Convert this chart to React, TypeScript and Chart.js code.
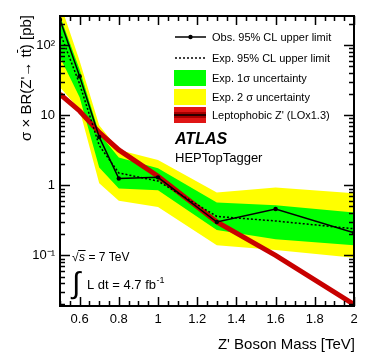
import React, { useEffect, useRef } from "react";
import { Chart, registerables } from "chart.js";

Chart.register(...registerables);

// ---- data ----
const masses = [0.5, 0.6, 0.7, 0.8, 1.0, 1.3, 1.6, 2.0];
const observed = [230, 36, 4.9, 1.25, 1.3, 0.3, 0.46, 0.21];
const expected = [150, 28, 3.7, 1.5, 1.15, 0.36, 0.31, 0.24];
const oneSigmaUp = [260, 45, 5.5, 2.5, 1.75, 0.57, 0.52, 0.41];
const oneSigmaDown = [67, 18, 1.8, 0.9, 0.85, 0.23, 0.17, 0.14];
const twoSigmaUp = [400, 60, 7.2, 3.2, 2.3, 0.79, 0.93, 0.77];
const twoSigmaDown = [25, 12, 1.07, 0.6, 0.49, 0.14, 0.12, 0.093];
const zprimeMasses = [0.5, 0.6, 0.7, 0.8, 1.0, 1.3, 1.6, 2.0];
const zprimeXsec = [20, 11.5, 5.7, 3.2, 1.35, 0.3, 0.1, 0.02];

const xTickValues = [0.6, 0.8, 1.0, 1.2, 1.4, 1.6, 1.8, 2.0];
const xTickLabels = ["0.6", "0.8", "1", "1.2", "1.4", "1.6", "1.8", "2"];
const yTickValues = [0.1, 1, 10, 100];
const yTickLabels = ["10\u207B\u00B9", "1", "10", "10\u00B2"];

const legendLabels = [
  "Obs. 95% CL upper limit",
  "Exp. 95% CL upper limit",
  "Exp. 1\u03C3 uncertainty",
  "Exp. 2 \u03C3 uncertainty",
  "Leptophobic Z' (LOx1.3)",
];

const FONT = "'Liberation Sans', Arial, Helvetica, sans-serif";
const GREEN = "#00ff00";
const YELLOW = "#ffff00";
const RED = "#c80000";

const pts = (xs: number[], ys: number[]) => xs.map((x, i) => ({ x, y: ys[i] }));

const framePlugin = {
  id: "rootFrame",
  afterDraw(chart: any) {
    const { ctx, chartArea: a, scales } = chart;
    const xs = scales.x;
    const ys = scales.y;
    ctx.save();
    ctx.strokeStyle = "#000";
    ctx.fillStyle = "#000";

    // x ticks (bottom and top, inward)
    ctx.lineWidth = 1.5;
    for (let i = 10; i <= 40; i++) {
      const v = i / 20;
      const px = Math.round(xs.getPixelForValue(v)) + 0.5;
      const len = i % 4 === 0 ? 9 : 5;
      ctx.beginPath();
      ctx.moveTo(px, a.bottom);
      ctx.lineTo(px, a.bottom - len);
      ctx.moveTo(px, a.top);
      ctx.lineTo(px, a.top + len);
      ctx.stroke();
    }
    // y ticks (left and right, inward)
    const ymin = ys.min;
    const ymax = ys.max;
    for (let d = -3; d <= 3; d++) {
      for (let k = 1; k <= 9; k++) {
        const v = k * Math.pow(10, d);
        if (v < ymin || v > ymax) continue;
        const py = Math.round(ys.getPixelForValue(v)) + 0.5;
        const len = k === 1 ? 10 : 5;
        ctx.beginPath();
        ctx.moveTo(a.left, py);
        ctx.lineTo(a.left + len, py);
        ctx.moveTo(a.right, py);
        ctx.lineTo(a.right - len, py);
        ctx.stroke();
      }
    }
    // frame
    ctx.lineWidth = 2;
    ctx.strokeRect(a.left, a.top, a.right - a.left, a.bottom - a.top);

    // legend
    const lx0 = 175;
    const lx1 = 206;
    const tx = 212;
    const rows = [37, 58, 78, 97, 115];
    ctx.font = `11px ${FONT}`;
    ctx.textAlign = "left";
    ctx.textBaseline = "alphabetic";
    rows.forEach((cy, i) => {
      ctx.fillStyle = "#000";
      ctx.fillText(legendLabels[i], tx, cy + 4);
    });
    // obs
    ctx.lineWidth = 1.5;
    ctx.beginPath();
    ctx.moveTo(lx0, rows[0]);
    ctx.lineTo(lx1, rows[0]);
    ctx.stroke();
    ctx.beginPath();
    ctx.arc((lx0 + lx1) / 2, rows[0], 2.2, 0, Math.PI * 2);
    ctx.fill();
    // exp
    ctx.setLineDash([2, 2]);
    ctx.beginPath();
    ctx.moveTo(lx0, rows[1]);
    ctx.lineTo(lx1, rows[1]);
    ctx.stroke();
    ctx.setLineDash([]);
    // boxes
    ctx.fillStyle = GREEN;
    ctx.fillRect(174, rows[2] - 8, 32, 16);
    ctx.fillStyle = YELLOW;
    ctx.fillRect(174, rows[3] - 8, 32, 16);
    ctx.fillStyle = "#e01515";
    ctx.fillRect(174, rows[4] - 8, 32, 16);
    ctx.fillStyle = "#a80000";
    ctx.fillRect(174, rows[4] - 3, 32, 6);
    ctx.strokeStyle = "#000";
    ctx.lineWidth = 1.5;
    ctx.beginPath();
    ctx.moveTo(174, rows[4]);
    ctx.lineTo(206, rows[4]);
    ctx.stroke();

    // ATLAS label
    ctx.fillStyle = "#000";
    ctx.font = `bold italic 16px ${FONT}`;
    ctx.fillText("ATLAS", 175, 144);
    ctx.font = `13px ${FONT}`;
    ctx.fillText("HEPTopTagger", 175, 162);

    // sqrt(s)
    ctx.font = `12px ${FONT}`;
    ctx.fillText("\u221A", 72, 261);
    const sqW = ctx.measureText("\u221A").width;
    ctx.lineWidth = 1;
    ctx.beginPath();
    ctx.moveTo(72 + sqW - 0.5, 250.5);
    ctx.lineTo(72 + sqW + 7, 250.5);
    ctx.stroke();
    ctx.font = `italic 12px ${FONT}`;
    ctx.fillText("s", 72 + sqW + 0.5, 261);
    const sW = ctx.measureText("s").width;
    ctx.font = `12px ${FONT}`;
    ctx.fillText(" = 7 TeV", 72 + sqW + 0.5 + sW, 261);

    // integral L dt
    ctx.font = `30px ${FONT}`;
    ctx.fillText("\u222B", 72, 293);
    ctx.font = `13px ${FONT}`;
    const lumi = "L dt = 4.7 fb";
    ctx.fillText(lumi, 87, 289);
    const lw = ctx.measureText(lumi).width;
    ctx.font = `9px ${FONT}`;
    ctx.fillText("-1", 87 + lw + 0.5, 283);

    // axis titles
    ctx.font = `15px ${FONT}`;
    ctx.textAlign = "right";
    ctx.fillText("Z' Boson Mass [TeV]", 355, 349);

    ctx.save();
    ctx.translate(26, 15);
    ctx.rotate(-Math.PI / 2);
    ctx.textAlign = "left";
    ctx.font = `15px ${FONT}`;
    const p1 = "\u03C3 \u00D7 BR(Z'\u2192 ";
    const p2 = "tt";
    const p3 = ") [pb]";
    const w1 = ctx.measureText(p1).width;
    const w2 = ctx.measureText(p2).width;
    const w3 = ctx.measureText(p3).width;
    const tW = ctx.measureText("t").width;
    let x0 = -(w1 + w2 + w3);
    ctx.fillText(p1, x0, 5);
    ctx.fillText(p2, x0 + w1, 5);
    ctx.lineWidth = 1;
    ctx.beginPath();
    ctx.moveTo(x0 + w1 + tW + 0.5, -8.5);
    ctx.lineTo(x0 + w1 + w2 - 0.5, -8.5);
    ctx.stroke();
    ctx.fillText(p3, x0 + w1 + w2, 5);
    ctx.restore();

    ctx.restore();
  },
};

export default function App() {
  const canvasRef = useRef<HTMLCanvasElement | null>(null);

  useEffect(() => {
    if (!canvasRef.current) return;
    Chart.defaults.font.family = FONT;
    const chart = new Chart(canvasRef.current, {
      type: "line",
      data: {
        datasets: [
          {
            label: "Obs",
            data: pts(masses, observed),
            borderColor: "#000",
            borderWidth: 1.5,
            pointRadius: 2.2,
            pointBackgroundColor: "#000",
            pointBorderWidth: 0,
            fill: false,
            order: 0,
          },
          {
            label: "Exp",
            data: pts(masses, expected),
            borderColor: "#000",
            borderWidth: 1.5,
            borderDash: [2, 2],
            pointRadius: 0,
            fill: false,
            order: 1,
          },
          {
            label: "Zprime",
            data: pts(zprimeMasses, zprimeXsec),
            borderColor: RED,
            borderWidth: 5,
            pointRadius: 0,
            fill: false,
            order: 2,
          },
          {
            label: "1s up",
            data: pts(masses, oneSigmaUp),
            borderColor: "rgba(0,0,0,0)",
            borderWidth: 0,
            backgroundColor: GREEN,
            pointRadius: 0,
            fill: "+1",
            order: 3,
          },
          {
            label: "1s down",
            data: pts(masses, oneSigmaDown),
            borderColor: "rgba(0,0,0,0)",
            borderWidth: 0,
            pointRadius: 0,
            fill: false,
            order: 4,
          },
          {
            label: "2s up",
            data: pts(masses, twoSigmaUp),
            borderColor: "rgba(0,0,0,0)",
            borderWidth: 0,
            backgroundColor: YELLOW,
            pointRadius: 0,
            fill: "+1",
            order: 5,
          },
          {
            label: "2s down",
            data: pts(masses, twoSigmaDown),
            borderColor: "rgba(0,0,0,0)",
            borderWidth: 0,
            pointRadius: 0,
            fill: false,
            order: 6,
          },
        ],
      },
      options: {
        animation: false,
        responsive: true,
        maintainAspectRatio: false,
        events: [],
        layout: { padding: { left: 0, right: 20, top: 16, bottom: 0 } },
        plugins: {
          legend: { display: false },
          tooltip: { enabled: false },
        },
        scales: {
          x: {
            type: "linear",
            min: 0.5,
            max: 2.0,
            grid: { display: false, drawTicks: false },
            border: { display: false },
            ticks: {
              color: "#000",
              font: { family: FONT, size: 13 },
              padding: 6,
              maxRotation: 0,
              autoSkip: false,
              callback: (_v: any, i: number) => xTickLabels[i],
            },
            afterBuildTicks: (s: any) => {
              s.ticks = xTickValues.map((v) => ({ value: v }));
            },
            afterFit: (s: any) => {
              s.height = 55;
            },
          },
          y: {
            type: "logarithmic",
            min: 0.019,
            max: 260,
            grid: { display: false, drawTicks: false },
            border: { display: false },
            ticks: {
              color: "#000",
              font: { family: FONT, size: 13 },
              padding: 5,
              autoSkip: false,
              callback: (_v: any, i: number) => yTickLabels[i],
            },
            afterBuildTicks: (s: any) => {
              s.ticks = yTickValues.map((v) => ({ value: v }));
            },
            afterFit: (s: any) => {
              s.width = 60;
            },
          },
        },
      },
      plugins: [framePlugin],
    } as any);
    return () => chart.destroy();
  }, []);

  return (
    <div style={{ position: "fixed", left: 0, top: 0, width: 374, height: 361, background: "#fff" }}>
      <canvas ref={canvasRef} />
    </div>
  );
}
